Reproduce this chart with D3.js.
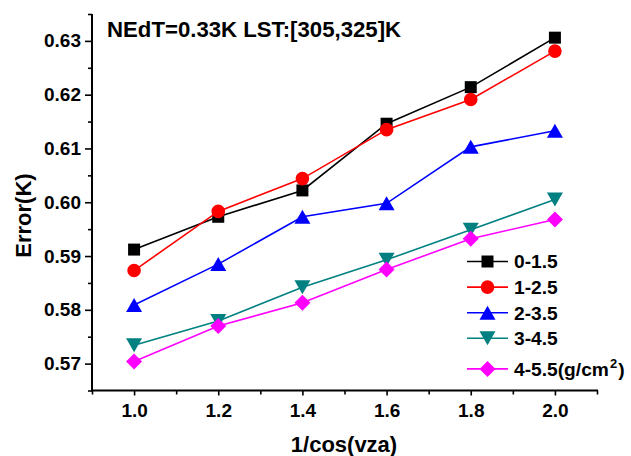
<!DOCTYPE html>
<html>
<head>
<meta charset="utf-8">
<script src="https://cdn.jsdelivr.net/npm/d3@7"></script>
<style>
  html, body { margin: 0; padding: 0; background: #fff; }
  svg { display: block; font-family: "Liberation Sans", Arial, sans-serif; font-weight: bold; }
</style>
</head>
<body>
<svg id="chart" width="631" height="456"></svg>
<script>
// Retrieval error vs 1/cos(view zenith angle), per water-vapour bin
const xValues = [1.0, 1.2, 1.4, 1.6, 1.8, 2.0];
const seriesNames = ["0-1.5", "1-2.5", "2-3.5", "3-4.5", "4-5.5"];
const wv0 = [0.5912, 0.5973, 0.6022, 0.6146, 0.6214, 0.6306];
const wv1 = [0.5873, 0.5983, 0.6044, 0.6135, 0.6191, 0.6281];
const wv2 = [0.5809, 0.5885, 0.5973, 0.5998, 0.6103, 0.6133];
const wv3 = [0.5734, 0.5779, 0.5842, 0.5893, 0.5949, 0.6005];
const wv4 = [0.5704, 0.5770, 0.5813, 0.5875, 0.5932, 0.5968];
const xMajorTicks = [1.0, 1.2, 1.4, 1.6, 1.8, 2.0];
const xMinorTicks = [0.9, 1.1, 1.3, 1.5, 1.7, 1.9, 2.1];
const yMajorTicks = [0.57, 0.58, 0.59, 0.60, 0.61, 0.62, 0.63];
const yMinorTicks = [0.565, 0.575, 0.585, 0.595, 0.605, 0.615, 0.625, 0.635];
const titleText = "NEdT=0.33K LST:[305,325]K";
const xTitle = "1/cos(vza)";
const yTitle = "Error(K)";

const seriesValues = [wv0, wv1, wv2, wv3, wv4];
const colors = ["#000000", "#ff0000", "#0000ff", "#008080", "#ff00ff"];
const shapes = ["square", "circle", "up", "down", "diamond"];

const svg = d3.select("#chart");
const x = d3.scaleLinear().domain([0.9, 2.1]).range([92, 597]);
const y = d3.scaleLinear().domain([0.565, 0.635]).range([390.5, 14]);

function markerPath(shape) {
  switch (shape) {
    case "square": return "M-6,-6H6V6H-6Z";
    case "circle": return d3.symbol(d3.symbolCircle, Math.PI * 6.8 * 6.8)();
    case "up": return "M0,-7L8,7L-8,7Z";
    case "down": return "M0,7L8,-7L-8,-7Z";
    case "diamond": return "M0,-8L8,0L0,8L-8,0Z";
  }
}

// Axes (left and bottom only)
const yAxisMajor = d3.axisLeft(y).tickValues(yMajorTicks).tickSize(7).tickPadding(4)
  .tickFormat(d3.format(".2f"));
const yAxisMinor = d3.axisLeft(y).tickValues(yMinorTicks).tickSize(4).tickFormat("");
const xAxisMajor = d3.axisBottom(x).tickValues(xMajorTicks).tickSize(5).tickPadding(8)
  .tickFormat(d3.format(".1f"));
const xAxisMinor = d3.axisBottom(x).tickValues(xMinorTicks).tickSize(4).tickFormat("");

function styleAxis(g) {
  g.select(".domain").remove();
  g.selectAll(".tick line").attr("stroke", "#000").attr("stroke-width", 1.6);
  g.selectAll(".tick text").attr("fill", "#000").attr("font-size", 19)
    .attr("font-family", "Liberation Sans, Arial, sans-serif").attr("font-weight", "bold");
}

svg.append("g").attr("transform", "translate(92,0)").call(yAxisMinor).call(styleAxis);
svg.append("g").attr("transform", "translate(92,0)").call(yAxisMajor).call(styleAxis);
svg.append("g").attr("transform", "translate(0,390.5)").call(xAxisMinor).call(styleAxis);
svg.append("g").attr("transform", "translate(0,390.5)").call(xAxisMajor).call(styleAxis);

// Axis lines
svg.append("line").attr("x1", 92).attr("x2", 92).attr("y1", y(0.635)).attr("y2", 390.5)
  .attr("stroke", "#000").attr("stroke-width", 2);
svg.append("line").attr("x1", 91).attr("x2", x(2.1) + 1).attr("y1", 390.5).attr("y2", 390.5)
  .attr("stroke", "#000").attr("stroke-width", 2);

// Series
const line = d3.line().x((d, i) => x(xValues[i])).y(d => y(d));
seriesValues.forEach((vals, k) => {
  const g = svg.append("g");
  g.append("path").datum(vals).attr("d", line)
    .attr("fill", "none").attr("stroke", colors[k]).attr("stroke-width", 1.6);
  g.selectAll("path.pt").data(vals).enter().append("path")
    .attr("class", "pt")
    .attr("d", markerPath(shapes[k]))
    .attr("transform", (d, i) => `translate(${x(xValues[i])},${y(d)})`)
    .attr("fill", colors[k]);
});

// Title and axis titles
svg.append("text").attr("x", 107).attr("y", 36.5).attr("font-size", 22.2).text(titleText);
svg.append("text").attr("x", 344).attr("y", 452).attr("text-anchor", "middle")
  .attr("font-size", 22).text(xTitle);
svg.append("text").attr("transform", "translate(31,215.5) rotate(-90)")
  .attr("text-anchor", "middle").attr("font-size", 22).text(yTitle);

// Legend
const legend = svg.append("g");
seriesNames.forEach((name, k) => {
  const cy = 261.5 + k * 25.6 + (k === 4 ? 5 : 0);
  legend.append("line").attr("x1", 467).attr("x2", 508).attr("y1", cy).attr("y2", cy)
    .attr("stroke", colors[k]).attr("stroke-width", 1.6);
  legend.append("path").attr("d", markerPath(shapes[k]))
    .attr("transform", `translate(487.5,${cy})`).attr("fill", colors[k]);
  const t = legend.append("text").attr("x", 514).attr("y", cy + 6.8).attr("font-size", 19.2);
  t.append("tspan").text(name);
  if (k === 4) {
    t.append("tspan").text("(g/cm");
    t.append("tspan").attr("font-size", 13).attr("dx", 1).attr("dy", -8).text("2");
    t.append("tspan").attr("dx", 1).attr("dy", 8).text(")");
  }
});
</script>
</body>
</html>
